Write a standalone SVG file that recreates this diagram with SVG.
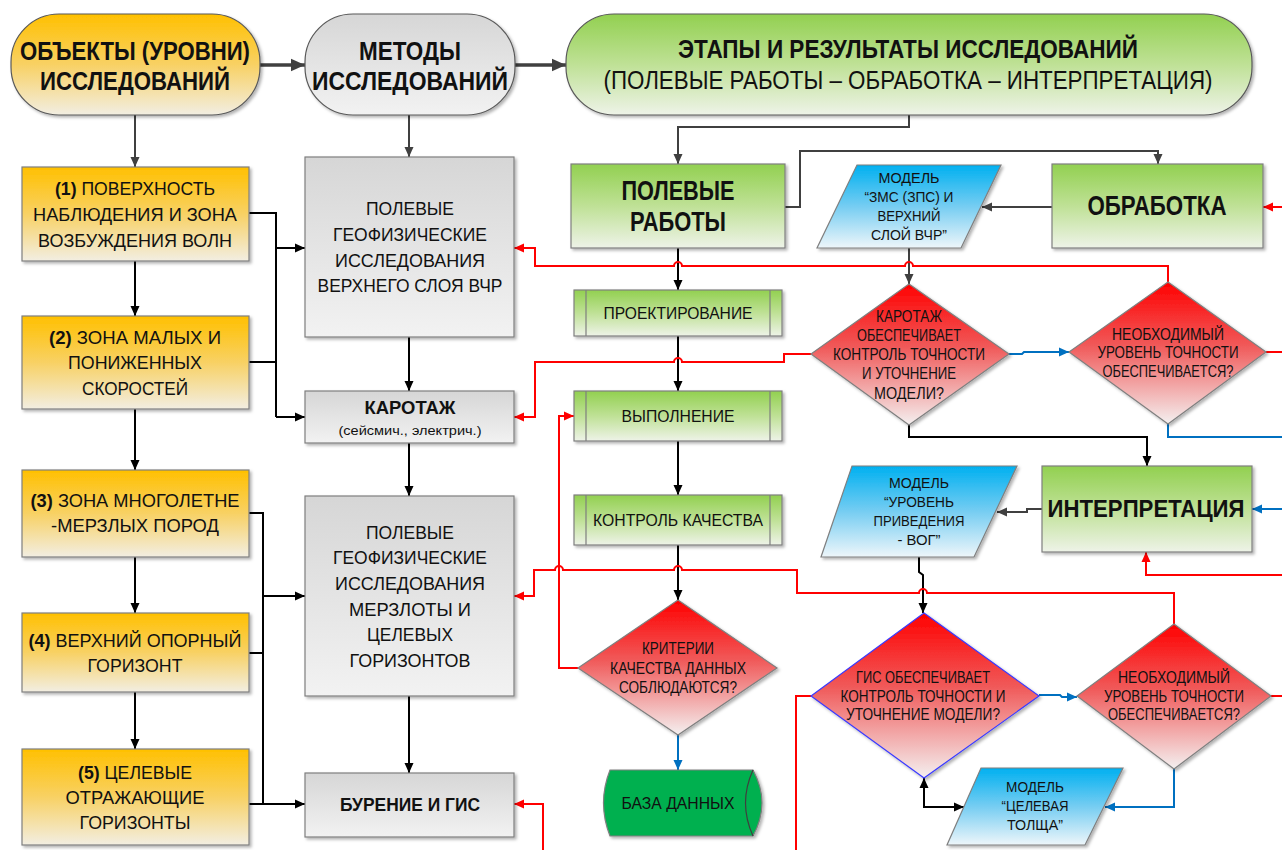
<svg xmlns="http://www.w3.org/2000/svg" width="1282" height="850" viewBox="0 0 1282 850">
<style>
.t{font-family:"Liberation Sans",Arial,sans-serif;fill:#111;text-anchor:middle}
.b{font-weight:bold}
.f23{font-size:23px}.f26{font-size:26px}.f25{font-size:25px}.f27{font-size:27px}.f18{font-size:18.5px}.f17{font-size:17px}.f16{font-size:16.5px}.f15{font-size:15.5px}.f13{font-size:13.5px}
.sh{stroke:#7f7f7f;stroke-width:1.2;filter:url(#ds)}
.pl{stroke:#595959;stroke-width:1.2;filter:url(#ds)}
.ck{fill:none;stroke:#000;stroke-width:2}
.cg{fill:none;stroke:#404040;stroke-width:2}
.cG{fill:none;stroke:#404040;stroke-width:3.5}
.cr{fill:none;stroke:#ff0000;stroke-width:2}
.cb{fill:none;stroke:#0070c0;stroke-width:2}
</style>
<defs>
<filter id="ds" x="-5%" y="-5%" width="115%" height="120%"><feDropShadow dx="2" dy="2" stdDeviation="1.5" flood-color="#000" flood-opacity="0.3"/></filter>
<linearGradient id="gY" x1="0" y1="0" x2="0" y2="1"><stop offset="0" stop-color="#ffc000"/><stop offset="0.5" stop-color="#f8d164"/><stop offset="1" stop-color="#f2eee2"/></linearGradient>
<linearGradient id="gS" x1="0" y1="0" x2="0" y2="1"><stop offset="0" stop-color="#d6d6d6"/><stop offset="1" stop-color="#f2f2f2"/></linearGradient>
<linearGradient id="gG" x1="0" y1="0" x2="0" y2="1"><stop offset="0" stop-color="#92d050"/><stop offset="0.5" stop-color="#bfe196"/><stop offset="1" stop-color="#eef3e8"/></linearGradient>
<linearGradient id="gR" x1="0" y1="0" x2="0" y2="1"><stop offset="0" stop-color="#ff0000"/><stop offset="0.45" stop-color="#f05a5a"/><stop offset="1" stop-color="#f4f0f0"/></linearGradient>
<linearGradient id="gB" x1="0" y1="0" x2="0" y2="1"><stop offset="0" stop-color="#00b0f0"/><stop offset="0.5" stop-color="#76cdf2"/><stop offset="1" stop-color="#eef6fa"/></linearGradient>
<marker id="mk" markerUnits="userSpaceOnUse" markerWidth="10" markerHeight="10" viewBox="0 0 10 10" refX="10" refY="5" orient="auto-start-reverse"><path d="M0,0.5L10,5L0,9.5z" fill="#000"/></marker>
<marker id="mg" markerUnits="userSpaceOnUse" markerWidth="10" markerHeight="10" viewBox="0 0 10 10" refX="10" refY="5" orient="auto"><path d="M0,0.5L10,5L0,9.5z" fill="#404040"/></marker>
<marker id="mG" markerUnits="userSpaceOnUse" markerWidth="14" markerHeight="14" viewBox="0 0 10 10" refX="10" refY="5" orient="auto"><path d="M0,0.5L10,5L0,9.5z" fill="#404040"/></marker>
<marker id="mr" markerUnits="userSpaceOnUse" markerWidth="10" markerHeight="10" viewBox="0 0 10 10" refX="10" refY="5" orient="auto"><path d="M0,0.5L10,5L0,9.5z" fill="#ff0000"/></marker>
<marker id="mb" markerUnits="userSpaceOnUse" markerWidth="10" markerHeight="10" viewBox="0 0 10 10" refX="10" refY="5" orient="auto"><path d="M0,0.5L10,5L0,9.5z" fill="#0070c0"/></marker>
</defs>
<rect width="1282" height="850" fill="#fff"/>

<g id="connectors">
<path class="cG" d="M260,65H305" marker-end="url(#mG)"/>
<path class="cG" d="M515,65H566" marker-end="url(#mG)"/>
<path class="cg" d="M135,115V167" marker-end="url(#mg)"/>
<path class="cg" d="M409,114V157" marker-end="url(#mg)"/>
<path class="cg" d="M909,114V127H678V164" marker-end="url(#mg)"/>
<path class="cg" d="M785,207H800V151H1158V164" marker-end="url(#mg)"/>
<path class="cg" d="M1052,207H982" marker-end="url(#mg)"/>
<path class="cg" d="M909,248V284" marker-end="url(#mg)"/>
<path class="cg" d="M1042,509H1027V512H997" marker-end="url(#mg)"/>

<path class="ck" d="M135,261V316" marker-end="url(#mk)"/>
<path class="ck" d="M135,409V470" marker-end="url(#mk)"/>
<path class="ck" d="M135,557V613" marker-end="url(#mk)"/>
<path class="ck" d="M135,692V749" marker-end="url(#mk)"/>
<path class="ck" d="M249,213H276V417"/>
<path class="ck" d="M249,362H276"/>
<path class="ck" d="M276,248H305" marker-end="url(#mk)"/>
<path class="ck" d="M276,417H305" marker-end="url(#mk)"/>
<path class="ck" d="M249,513H263V804"/>
<path class="ck" d="M249,653H263"/>
<path class="ck" d="M263,596H305" marker-end="url(#mk)"/>
<path class="ck" d="M249,804H305" marker-end="url(#mk)"/>
<path class="ck" d="M409,337V391" marker-end="url(#mk)"/>
<path class="ck" d="M409,443V496" marker-end="url(#mk)"/>
<path class="ck" d="M409,696V773" marker-end="url(#mk)"/>
<path class="ck" d="M678,248V290" marker-end="url(#mk)"/>
<path class="ck" d="M678,336V391" marker-end="url(#mk)"/>
<path class="ck" d="M678,441V495" marker-end="url(#mk)"/>
<path class="ck" d="M678,545V600" marker-end="url(#mk)"/>
<path class="ck" d="M909,425V437H1147V466" marker-end="url(#mk)"/>
<path class="ck" d="M919,557V572L923,575V613" marker-end="url(#mk)"/>
<path class="ck" d="M924,778V807H964" marker-start="url(#mk)" marker-end="url(#mk)"/>

<path class="cr" d="M1282,207H1263" marker-end="url(#mr)"/>
<path class="cr" d="M1168,282V266H913a4,4 0 0 0 -8,0H682a4,4 0 0 0 -8,0H535V248H514" marker-end="url(#mr)"/>
<path class="cr" d="M811,354H784V362H682a4,4 0 0 0 -8,0H535V417H514" marker-end="url(#mr)"/>
<path class="cr" d="M1266,352H1282"/>
<path class="cr" d="M1174,624V593H927a4,4 0 0 0 -8,0H797V570H682a4,4 0 0 0 -8,0H563a4,4 0 0 0 -8,0H534V596H514" marker-end="url(#mr)"/>
<path class="cr" d="M578,668H559V416H574" marker-end="url(#mr)"/>
<path class="cr" d="M1282,575H1146V552" marker-end="url(#mr)"/>
<path class="cr" d="M811,696H796V850"/>
<path class="cr" d="M1271,696H1282"/>
<path class="cr" d="M543,850V804H514" marker-end="url(#mr)"/>

<path class="cb" d="M1009,354H1022L1024,352H1069" marker-end="url(#mb)"/>
<path class="cb" d="M1168,424V437H1282"/>
<path class="cb" d="M1282,509H1252" marker-end="url(#mb)"/>
<path class="cb" d="M678,735V770" marker-end="url(#mb)"/>
<path class="cb" d="M1039,695H1060L1062,697H1077" marker-end="url(#mb)"/>
<path class="cb" d="M1174,769V807H1105" marker-end="url(#mb)"/>
</g>

<g id="hdr-objects">
<rect class="pl" x="11" y="14" width="249" height="101" rx="48" fill="url(#gY)"/>
<text class="t b f26" x="135" y="60" textLength="230" lengthAdjust="spacingAndGlyphs">ОБЪЕКТЫ (УРОВНИ)</text>
<text class="t b f26" x="135" y="90" textLength="190" lengthAdjust="spacingAndGlyphs">ИССЛЕДОВАНИЙ</text>
</g>
<g id="hdr-methods">
<rect class="pl" x="305" y="14" width="210" height="101" rx="48" fill="url(#gS)"/>
<text class="t b f26" x="410" y="60" textLength="102" lengthAdjust="spacingAndGlyphs">МЕТОДЫ</text>
<text class="t b f26" x="410" y="90" textLength="196" lengthAdjust="spacingAndGlyphs">ИССЛЕДОВАНИЙ</text>
</g>
<g id="hdr-stages">
<rect class="pl" x="566" y="14" width="686" height="101" rx="48" fill="url(#gG)"/>
<text class="t b f25" x="908" y="58" textLength="460" lengthAdjust="spacingAndGlyphs">ЭТАПЫ И РЕЗУЛЬТАТЫ ИССЛЕДОВАНИЙ</text>
<text class="t f25" x="908" y="89" textLength="609" lengthAdjust="spacingAndGlyphs">(ПОЛЕВЫЕ РАБОТЫ – ОБРАБОТКА – ИНТЕРПРЕТАЦИЯ)</text>
</g>

<g id="obj1">
<rect class="sh" x="22" y="167" width="227" height="94" fill="url(#gY)"/>
<text class="t f18" x="135" y="195" textLength="160" lengthAdjust="spacingAndGlyphs"><tspan class="b">(1)</tspan> ПОВЕРХНОСТЬ</text>
<text class="t f18" x="135" y="221" textLength="204" lengthAdjust="spacingAndGlyphs">НАБЛЮДЕНИЯ И ЗОНА</text>
<text class="t f18" x="135" y="247" textLength="194" lengthAdjust="spacingAndGlyphs">ВОЗБУЖДЕНИЯ ВОЛН</text>
</g>
<g id="obj2">
<rect class="sh" x="22" y="316" width="227" height="93" fill="url(#gY)"/>
<text class="t f18" x="135" y="344" textLength="172" lengthAdjust="spacingAndGlyphs"><tspan class="b">(2)</tspan> ЗОНА МАЛЫХ И</text>
<text class="t f18" x="135" y="369" textLength="134" lengthAdjust="spacingAndGlyphs">ПОНИЖЕННЫХ</text>
<text class="t f18" x="135" y="395" textLength="106" lengthAdjust="spacingAndGlyphs">СКОРОСТЕЙ</text>
</g>
<g id="obj3">
<rect class="sh" x="22" y="470" width="227" height="87" fill="url(#gY)"/>
<text class="t f18" x="135" y="507" textLength="209" lengthAdjust="spacingAndGlyphs"><tspan class="b">(3)</tspan> ЗОНА МНОГОЛЕТНЕ</text>
<text class="t f18" x="135" y="532" textLength="168" lengthAdjust="spacingAndGlyphs">-МЕРЗЛЫХ ПОРОД</text>
</g>
<g id="obj4">
<rect class="sh" x="22" y="613" width="227" height="79" fill="url(#gY)"/>
<text class="t f18" x="135" y="647" textLength="213" lengthAdjust="spacingAndGlyphs"><tspan class="b">(4)</tspan> ВЕРХНИЙ ОПОРНЫЙ</text>
<text class="t f18" x="135" y="672" textLength="95" lengthAdjust="spacingAndGlyphs">ГОРИЗОНТ</text>
</g>
<g id="obj5">
<rect class="sh" x="22" y="749" width="227" height="96" fill="url(#gY)"/>
<text class="t f18" x="135" y="779" textLength="114" lengthAdjust="spacingAndGlyphs"><tspan class="b">(5)</tspan> ЦЕЛЕВЫЕ</text>
<text class="t f18" x="135" y="804" textLength="139" lengthAdjust="spacingAndGlyphs">ОТРАЖАЮЩИЕ</text>
<text class="t f18" x="135" y="829" textLength="111" lengthAdjust="spacingAndGlyphs">ГОРИЗОНТЫ</text>
</g>

<g id="meth-upper">
<rect class="sh" x="305" y="157" width="209" height="180" fill="url(#gS)"/>
<text class="t f18" x="410" y="215" textLength="88" lengthAdjust="spacingAndGlyphs">ПОЛЕВЫЕ</text>
<text class="t f18" x="410" y="241" textLength="154" lengthAdjust="spacingAndGlyphs">ГЕОФИЗИЧЕСКИЕ</text>
<text class="t f18" x="410" y="267" textLength="150" lengthAdjust="spacingAndGlyphs">ИССЛЕДОВАНИЯ</text>
<text class="t f18" x="410" y="292" textLength="185" lengthAdjust="spacingAndGlyphs">ВЕРХНЕГО СЛОЯ ВЧР</text>
</g>
<g id="meth-logging">
<rect class="sh" x="305" y="391" width="209" height="52" fill="url(#gS)"/>
<text class="t b f18" x="410" y="414" textLength="91" lengthAdjust="spacingAndGlyphs">КАРОТАЖ</text>
<text class="t f13" x="410" y="435" textLength="143" lengthAdjust="spacingAndGlyphs">(сейсмич., электрич.)</text>
</g>
<g id="meth-permafrost">
<rect class="sh" x="305" y="496" width="209" height="200" fill="url(#gS)"/>
<text class="t f18" x="410" y="539" textLength="88" lengthAdjust="spacingAndGlyphs">ПОЛЕВЫЕ</text>
<text class="t f18" x="410" y="564" textLength="154" lengthAdjust="spacingAndGlyphs">ГЕОФИЗИЧЕСКИЕ</text>
<text class="t f18" x="410" y="590" textLength="150" lengthAdjust="spacingAndGlyphs">ИССЛЕДОВАНИЯ</text>
<text class="t f18" x="410" y="616" textLength="122" lengthAdjust="spacingAndGlyphs">МЕРЗЛОТЫ И</text>
<text class="t f18" x="410" y="641" textLength="86" lengthAdjust="spacingAndGlyphs">ЦЕЛЕВЫХ</text>
<text class="t f18" x="410" y="667" textLength="121" lengthAdjust="spacingAndGlyphs">ГОРИЗОНТОВ</text>
</g>
<g id="meth-drilling">
<rect class="sh" x="305" y="773" width="209" height="64" fill="url(#gS)"/>
<text class="t b f18" x="410" y="811" textLength="140" lengthAdjust="spacingAndGlyphs">БУРЕНИЕ И ГИС</text>
</g>

<g id="field">
<rect class="sh" x="571" y="164" width="214" height="84" fill="url(#gG)"/>
<text class="t b f27" x="678" y="200" textLength="113" lengthAdjust="spacingAndGlyphs">ПОЛЕВЫЕ</text>
<text class="t b f27" x="678" y="231" textLength="96" lengthAdjust="spacingAndGlyphs">РАБОТЫ</text>
</g>
<g id="processing">
<rect class="sh" x="1052" y="164" width="211" height="84" fill="url(#gG)"/>
<text class="t b f27" x="1157" y="215" textLength="139" lengthAdjust="spacingAndGlyphs">ОБРАБОТКА</text>
</g>
<g id="interpretation">
<rect class="sh" x="1042" y="466" width="210" height="86" fill="url(#gG)"/>
<text class="t b f23" x="1146" y="517" textLength="197" lengthAdjust="spacingAndGlyphs">ИНТЕРПРЕТАЦИЯ</text>
</g>

<g id="design">
<rect class="sh" x="574" y="290" width="208" height="46" fill="url(#gG)"/>
<path d="M586,290V336M770,290V336" stroke="#7f7f7f" stroke-width="1.2"/>
<text class="t f17" x="678" y="319" textLength="149" lengthAdjust="spacingAndGlyphs">ПРОЕКТИРОВАНИЕ</text>
</g>
<g id="execution">
<rect class="sh" x="574" y="391" width="208" height="50" fill="url(#gG)"/>
<path d="M586,391V441M770,391V441" stroke="#7f7f7f" stroke-width="1.2"/>
<text class="t f17" x="678" y="422" textLength="113" lengthAdjust="spacingAndGlyphs">ВЫПОЛНЕНИЕ</text>
</g>
<g id="qc">
<rect class="sh" x="574" y="495" width="208" height="50" fill="url(#gG)"/>
<path d="M586,495V545M770,495V545" stroke="#7f7f7f" stroke-width="1.2"/>
<text class="t f17" x="678" y="526" textLength="170" lengthAdjust="spacingAndGlyphs">КОНТРОЛЬ КАЧЕСТВА</text>
</g>

<g id="model1">
<path class="sh" d="M857,165H1001L961,248H817Z" fill="url(#gB)"/>
<text class="t f15" x="909" y="183" textLength="61" lengthAdjust="spacingAndGlyphs">МОДЕЛЬ</text>
<text class="t f15" x="909" y="202" textLength="89" lengthAdjust="spacingAndGlyphs">“ЗМС (ЗПС) И</text>
<text class="t f15" x="909" y="221" textLength="63" lengthAdjust="spacingAndGlyphs">ВЕРХНИЙ</text>
<text class="t f15" x="909" y="240" textLength="76" lengthAdjust="spacingAndGlyphs">СЛОЙ ВЧР”</text>
</g>
<g id="model2">
<path class="sh" d="M852,466H1017L974,557H821Z" fill="url(#gB)"/>
<text class="t f15" x="919" y="488" textLength="60" lengthAdjust="spacingAndGlyphs">МОДЕЛЬ</text>
<text class="t f15" x="919" y="507" textLength="70" lengthAdjust="spacingAndGlyphs">“УРОВЕНЬ</text>
<text class="t f15" x="919" y="526" textLength="91" lengthAdjust="spacingAndGlyphs">ПРИВЕДЕНИЯ</text>
<text class="t f15" x="919" y="545" textLength="43" lengthAdjust="spacingAndGlyphs">- ВОГ”</text>
</g>
<g id="model3">
<path class="sh" d="M981,768H1123L1085,845H947Z" fill="url(#gB)"/>
<text class="t f15" x="1035" y="792" textLength="58" lengthAdjust="spacingAndGlyphs">МОДЕЛЬ</text>
<text class="t f15" x="1035" y="811" textLength="67" lengthAdjust="spacingAndGlyphs">“ЦЕЛЕВАЯ</text>
<text class="t f15" x="1035" y="830" textLength="56" lengthAdjust="spacingAndGlyphs">ТОЛЩА”</text>
</g>

<g id="dec-logging">
<path class="sh" d="M909,284L1009,354L909,425L811,354Z" fill="url(#gR)"/>
<text class="t f16" x="909" y="322" textLength="66" lengthAdjust="spacingAndGlyphs">КАРОТАЖ</text>
<text class="t f16" x="909" y="341" textLength="104" lengthAdjust="spacingAndGlyphs">ОБЕСПЕЧИВАЕТ</text>
<text class="t f16" x="909" y="360" textLength="152" lengthAdjust="spacingAndGlyphs">КОНТРОЛЬ ТОЧНОСТИ</text>
<text class="t f16" x="909" y="379" textLength="94" lengthAdjust="spacingAndGlyphs">И УТОЧНЕНИЕ</text>
<text class="t f16" x="909" y="399" textLength="70" lengthAdjust="spacingAndGlyphs">МОДЕЛИ?</text>
</g>
<g id="dec-accuracy1">
<path class="sh" d="M1168,282L1266,352L1168,424L1069,352Z" fill="url(#gR)"/>
<text class="t f16" x="1168" y="340" textLength="112" lengthAdjust="spacingAndGlyphs">НЕОБХОДИМЫЙ</text>
<text class="t f16" x="1168" y="358" textLength="141" lengthAdjust="spacingAndGlyphs">УРОВЕНЬ ТОЧНОСТИ</text>
<text class="t f16" x="1168" y="377" textLength="131" lengthAdjust="spacingAndGlyphs">ОБЕСПЕЧИВАЕТСЯ?</text>
</g>
<g id="dec-quality">
<path class="sh" d="M678,600L777,668L678,735L578,668Z" fill="url(#gR)"/>
<text class="t f16" x="678" y="654" textLength="72" lengthAdjust="spacingAndGlyphs">КРИТЕРИИ</text>
<text class="t f16" x="678" y="674" textLength="136" lengthAdjust="spacingAndGlyphs">КАЧЕСТВА ДАННЫХ</text>
<text class="t f16" x="678" y="693" textLength="118" lengthAdjust="spacingAndGlyphs">СОБЛЮДАЮТСЯ?</text>
</g>
<g id="dec-gis">
<path d="M924,613L1039,696L924,778L811,696Z" fill="url(#gR)" stroke="#3a3aff" stroke-width="1.2" filter="url(#ds)"/>
<text class="t f16" x="923" y="683" textLength="134" lengthAdjust="spacingAndGlyphs">ГИС ОБЕСПЕЧИВАЕТ</text>
<text class="t f16" x="923" y="702" textLength="165" lengthAdjust="spacingAndGlyphs">КОНТРОЛЬ ТОЧНОСТИ И</text>
<text class="t f16" x="923" y="720" textLength="154" lengthAdjust="spacingAndGlyphs">УТОЧНЕНИЕ МОДЕЛИ?</text>
</g>
<g id="dec-accuracy2">
<path class="sh" d="M1174,624L1271,696L1174,769L1077,696Z" fill="url(#gR)"/>
<text class="t f16" x="1174" y="683" textLength="112" lengthAdjust="spacingAndGlyphs">НЕОБХОДИМЫЙ</text>
<text class="t f16" x="1174" y="702" textLength="140" lengthAdjust="spacingAndGlyphs">УРОВЕНЬ ТОЧНОСТИ</text>
<text class="t f16" x="1174" y="720" textLength="132" lengthAdjust="spacingAndGlyphs">ОБЕСПЕЧИВАЕТСЯ?</text>
</g>

<g id="database">
<path class="sh" d="M610,770Q597,803 610,836H753Q771,803 753,770Z" fill="#00b050" stroke="#3f3f3f"/>
<path d="M753,770Q738,803 753,836" fill="none" stroke="#3f3f3f" stroke-width="1.2"/>
<text class="t f17" x="678" y="809" textLength="113" lengthAdjust="spacingAndGlyphs">БАЗА ДАННЫХ</text>
</g>
</svg>
